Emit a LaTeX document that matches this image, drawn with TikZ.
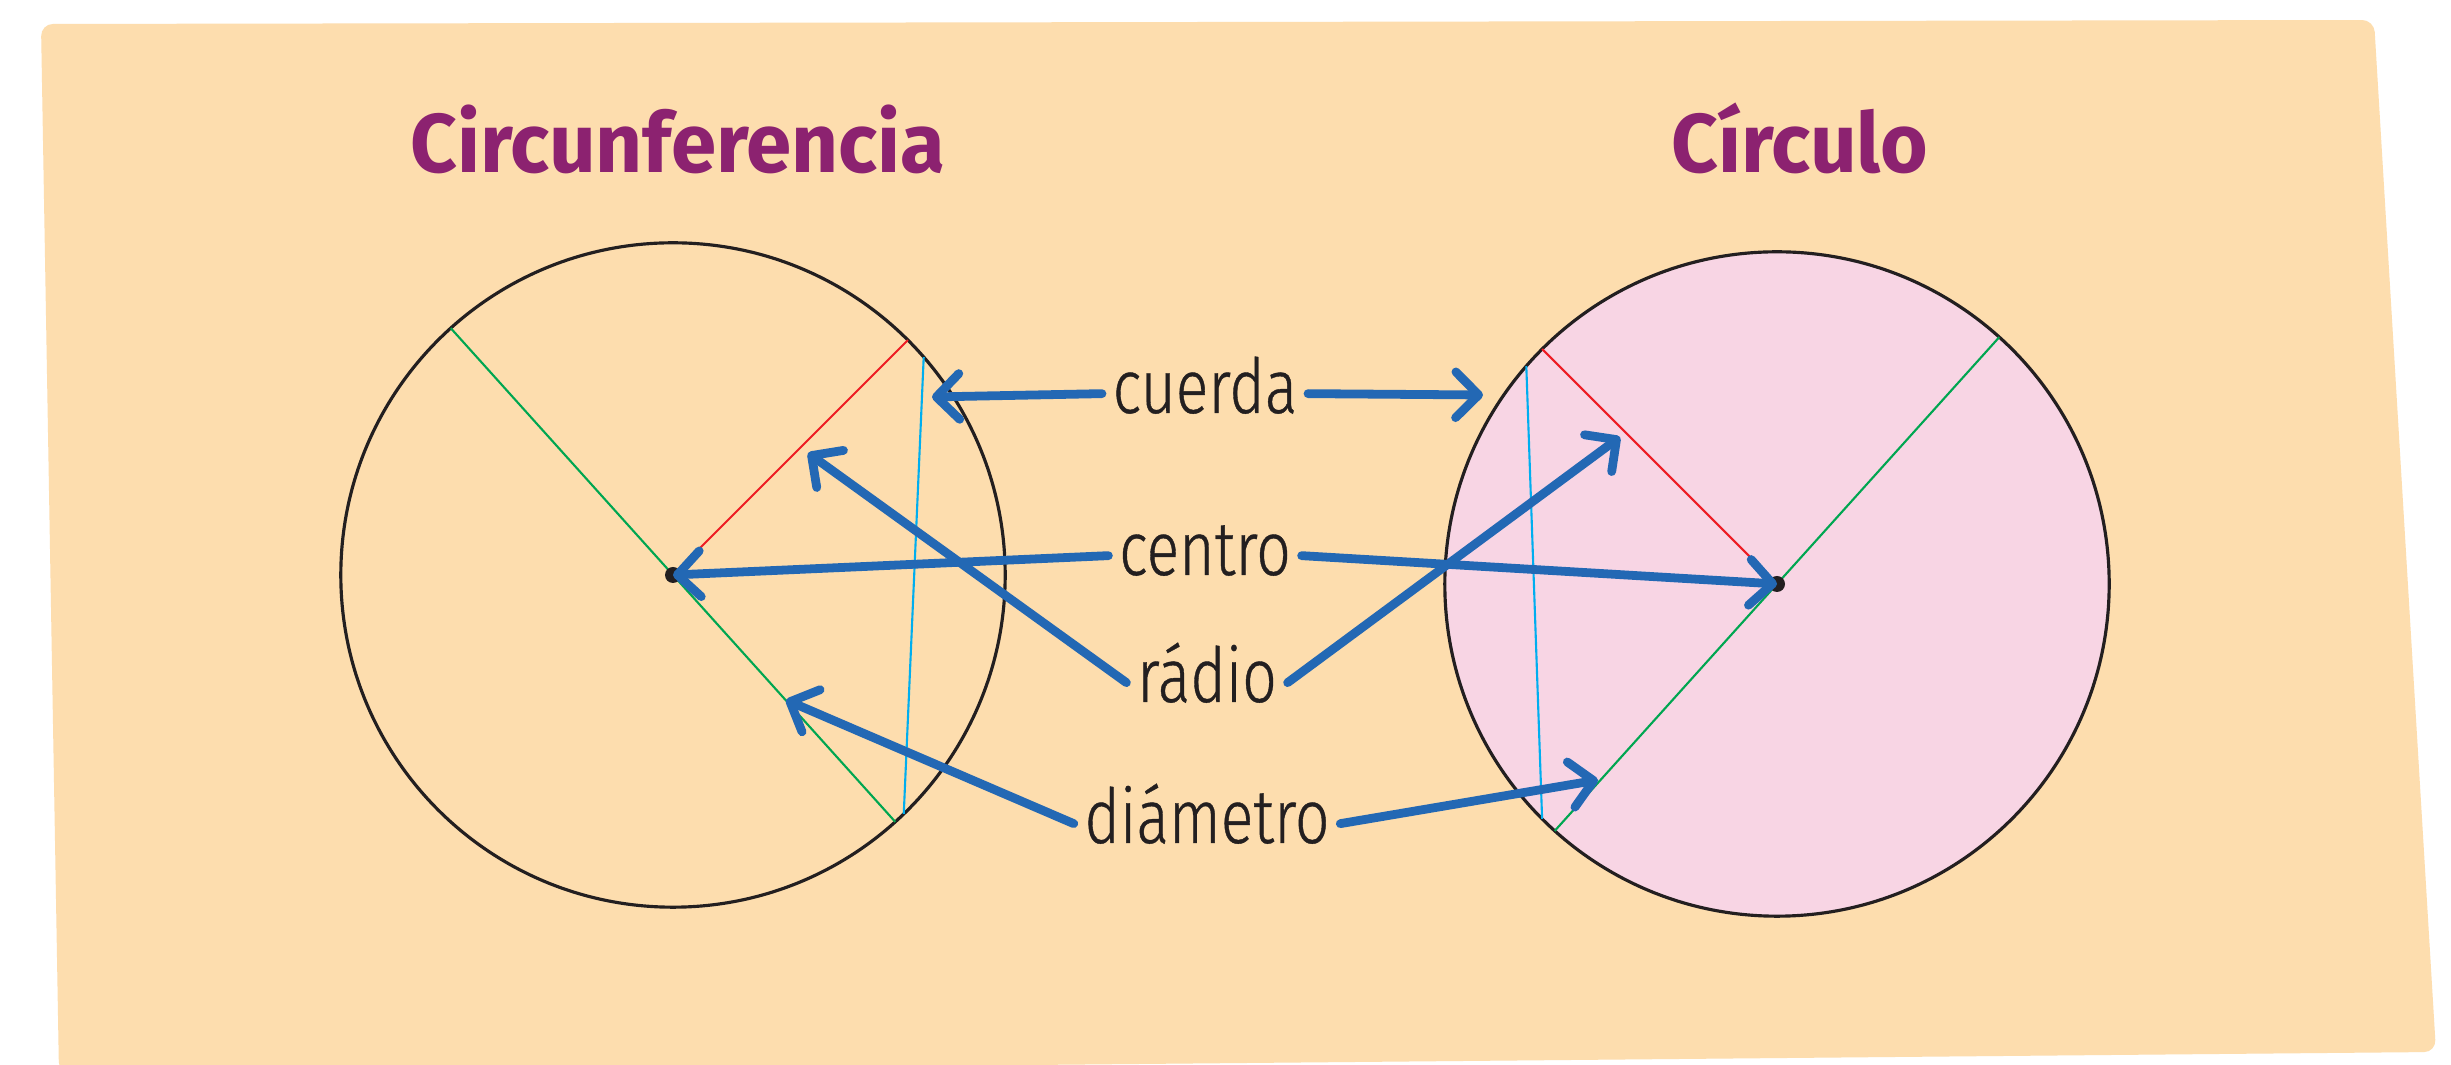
\documentclass[tikz,border=0pt]{standalone}
\usepackage{fontspec}
\IfFontExistsTF{Fira Sans Light}{\setmainfont[FakeStretch=0.8,FakeBold=0.5]{Fira Sans Light}}{\setmainfont[FakeStretch=0.8]{Fira Sans}}
\newfontfamily\titlefont[FakeStretch=0.98]{Fira Sans}
\usetikzlibrary{arrows.meta}
\definecolor{fondo}{RGB}{253,221,174}
\definecolor{rosa}{RGB}{248,213,228}
\definecolor{morado}{RGB}{140,34,112}
\definecolor{azul}{RGB}{35,104,180}
\definecolor{verde}{RGB}{0,166,81}
\definecolor{rojo}{RGB}{237,28,36}
\definecolor{celeste}{RGB}{0,174,239}
\definecolor{tinta}{RGB}{35,31,32}
\begin{document}
\begin{tikzpicture}
[x=0.01cm,y=-0.01cm,
  circledecorate/.style={shape=circle,minimum size=6.64cm,inner sep=0pt,outer sep=0pt,draw=tinta,line width=0.9pt},%
  titledecorate/.style={anchor=base,text=morado,font=\titlefont\bfseries\fontsize{23.7}{28}\selectfont},%
  labeldecorate/.style={anchor=base,text=tinta,font=\fontsize{21.6}{26}\selectfont,text height=11pt,text depth=0pt,inner xsep=0.1cm,inner ysep=0pt},%
  linedecorate/.style={-,line width=0.6pt},%
  arrowdecorate/.style={-{Straight Barb[length=6.5pt,width=13pt,round]},line width=2.5pt,line cap=round,draw=azul}]
%% background card
\fill[white] (0,0) rectangle (2451,1065);
\useasboundingbox (0,0) rectangle (2451,1065);
\fill[fondo,rounded corners=0.12cm] (41,24) -- (2374,20) -- (2436,1052) -- (59,1074) -- cycle;
%% titles
\node (circunferencia) at (678,173) [titledecorate] {Circunferencia};
\node (circulo) at (1800,173) [titledecorate] {Círculo};
%% circles
\node (circL) at (673,575) [circledecorate] {};
\node (circR) at (1777,584) [circledecorate,fill=rosa] {};
%% diameters, radii and chords
\draw[linedecorate,verde] (circL.132) -- (circL.-48);
\draw[linedecorate,rojo] (circL.center) -- (circL.45);
\draw[linedecorate,celeste] (circL.41) -- (circL.-46);
\draw[linedecorate,verde] (circR.48) -- (circR.228);
\draw[linedecorate,rojo] (circR.center) -- (circR.135);
\draw[linedecorate,celeste] (circR.139) -- (circR.225);
\fill[tinta] (circL.center) circle[radius=0.08cm];
\fill[tinta] (circR.center) circle[radius=0.08cm];
%% labels
\foreach \nodename/\x/\y/\texto in {cuerda/1205/413/cuerda, centro/1205/575/centro, radio/1207/702/rádio, diametro/1207/843/diámetro} {
  \node (\nodename) at (\x,\y) [labeldecorate] {\texto};
}
%% arrow ends
\coordinate (cuerdaL) at (932,397);
\coordinate (cuerdaR) at (1483,395);
\coordinate (radioL) at (808,453);
\coordinate (radioR) at (1620,437);
\coordinate (diametroL) at (786,700);
\coordinate (diametroR) at (1598,780);
%% arrows
\path
\foreach \startnode/\endnode in {cuerda.west/cuerdaL, cuerda.east/cuerdaR, centro.west/circL.center, centro.east/circR.center, radio.west/radioL, radio.east/radioR, diametro.west/diametroL, diametro.east/diametroR} {
  (\startnode) edge[arrowdecorate] (\endnode)
};
\end{tikzpicture}
\end{document}
